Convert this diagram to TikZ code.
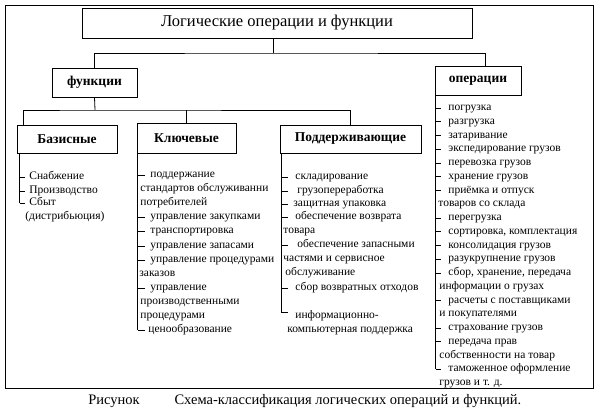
\documentclass[tikz,border=0pt]{standalone}
\usepackage{fontspec}
\setmainfont{Liberation Serif}
\usetikzlibrary{positioning}
\tikzstyle{hdrBox} = [draw, rectangle, inner sep=0pt,
   font=\bfseries\fontsize{13.5}{16}\selectfont]
\tikzstyle{listItem} = [anchor=west, inner sep=0pt, text height=7.5pt,
   text depth=2.5pt, font=\fontsize{11.5}{14}\selectfont]
\tikzstyle{capText} = [inner sep=0pt, font=\fontsize{14.5}{17}\selectfont]

\begin{document}
\begin{tikzpicture}[
  x=1pt, y=-1pt,
  line width=0.8pt,
  ]
  \useasboundingbox (0,0) rectangle (600,415);
  \draw[line width=1pt] (5,5) rectangle (593,388);
  \node[draw,rectangle,minimum width=390pt,minimum height=30pt,
    font=\fontsize{16.5}{19}\selectfont] (title) at (277,23) {Логические операции и функции};
  \node[hdrBox,minimum width=85pt,minimum height=29pt] (func) at (94.5,82.5) {функции};
  \node[hdrBox,minimum width=86pt,minimum height=29pt] (oper) at (478,80.5) {операции};
  \node[hdrBox,minimum width=100pt,minimum height=28pt] (basic) at (67,139) {Базисные};
  \node[hdrBox,minimum width=99pt,minimum height=30pt] (key) at (186.5,138) {Ключевые};
  \node[hdrBox,minimum width=141pt,minimum height=28pt] (supp) at (350.5,139) {Поддерживающие};

  % tree
  \coordinate (tj) at (273,53);
  \coordinate (fj) at (95,110);
  \draw (title.south -| tj) -- (tj);
  \draw (func.north) |- (tj) -| ([xshift=7pt]oper.north);
  \draw (func.south) -- (fj);
  \draw ([xshift=7pt]basic.north west) |- (fj) -| (supp.north);
  \draw (key.north) -- (key.north |- fj);

  % basic functions
  \coordinate (bbar) at ([xshift=3pt]basic.south west);
  \foreach \i/\x/\y/\txt in {0/29/177/Снабжение, 1/29/191/Производство,
      2/29/203/Сбыт, 3/25/217/{(дистрибьюция)}}
    \node[listItem] (bs-\i) at (\x,\y) {\txt};
  \draw (bbar) -- (bbar |- bs-2.west);
  \foreach \i in {0,1,2}
    \draw (bbar |- bs-\i.west) -- ++(5,0);

  % key functions
  \coordinate (kbar) at ([xshift=1pt]key.south west);
  \foreach \i/\x/\y/\txt in {0/150/175/поддержание, 1/140/189/{стандартов обслуживанни},
      2/140/203/потребителей, 3/150/217/{управление закупками},
      4/150/231/транспортировка, 5/150/246/{управление запасами},
      6/150/260/{управление процедурами}, 7/139/274/заказов,
      8/150/288/управление, 9/140/302/производственными,
      10/140/316/процедурами, 11/148/330/ценообразование}
    \node[listItem] (ks-\i) at (\x,\y) {\txt};
  \draw (kbar) -- (kbar |- ks-11.west);
  \foreach \i in {0,3,4,5,6,8,11}
    \draw (kbar |- ks-\i.west) -- ++(7,0);

  % supporting functions
  \coordinate (sbar) at ([xshift=2pt]supp.south west);
  \foreach \i/\x/\y/\txt in {0/295/177/складирование, 1/297/191/грузопереработка,
      2/293/204/{защитная упаковка}, 3/295/217/{обеспечение возврата},
      4/283/231/товара, 5/297/245/{обеспечение запасными},
      6/283/259/{частями и сервисное}, 7/285/273/обслуживание,
      8/295/288/{сбор возвратных отходов}, 9/295/316/информационно-,
      10/287/330/{компьютерная поддержка}}
    \node[listItem] (ss-\i) at (\x,\y) {\txt};
  \coordinate (scorner) at ([yshift=4pt]ss-9.west);
  \draw (sbar) -- (sbar |- scorner) -- ++(6,0);
  \foreach \i in {0,1,2,3,5,8}
    \draw (sbar |- ss-\i.west) -- ++(6,0);

  % operations
  \coordinate (obar) at ([xshift=1pt]oper.south west);
  \foreach \i/\x/\txt in {0/448/погрузка, 1/448/разгрузка, 2/448/затаривание,
      3/448/{экспедирование грузов}, 4/448/{перевозка грузов},
      5/448/{хранение грузов}, 6/448/{приёмка и отпуск},
      7/438/{товаров со склада}, 8/448/перегрузка,
      9/448/{сортировка, комплектация}, 10/448/{консолидация грузов},
      11/448/{разукрупнение грузов}, 12/448/{сбор, хранение, передача},
      13/439/{информации о грузах}, 14/448/{расчеты с поставщиками},
      15/439/{и покупателями}, 16/448/{страхование грузов},
      17/448/{передача прав}, 18/439/{собственности на товар},
      19/448/{таможенное оформление}, 20/439/{грузов и т. д.}}
    \node[listItem] (op-\i) at (\x,{108+13.75*\i}) {\txt};
  \draw (obar) -- (obar |- op-19.west);
  \foreach \i in {0,1,2,3,4,5,6,8,9,10,11,12,14,16,17,19}
    \draw (obar |- op-\i.west) -- ++(5,0);

  % caption
  \node[capText,anchor=west] (figlbl) at (88,401) {Рисунок};
  \node[capText,base right=34pt of figlbl] (figcap) {Схема-классификация логических операций и функций.};
\end{tikzpicture}
\end{document}
